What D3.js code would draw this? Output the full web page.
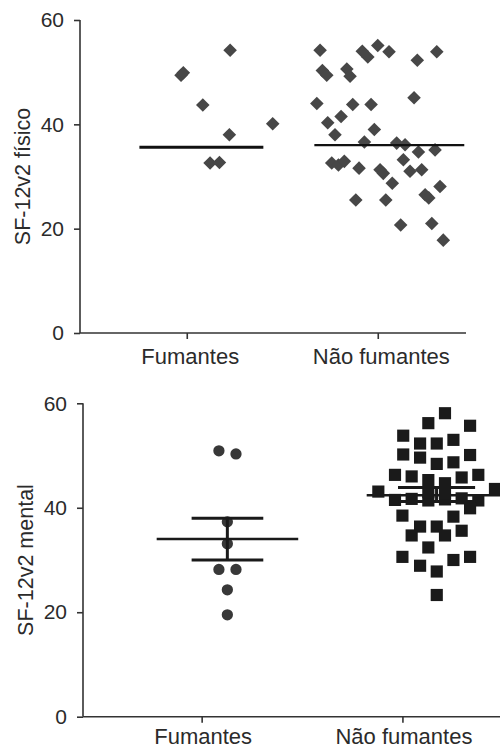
<!DOCTYPE html>
<html>
<head>
<meta charset="utf-8">
<script src="https://cdn.jsdelivr.net/npm/d3@7"></script>
<style>
  body { margin: 0; background: #fff; }
  svg { display: block; font-family: "Liberation Sans", Arial, sans-serif; }
  .axis path, .axis line { stroke: #333; stroke-width: 1.6; }
  .axis text { font-size: 21px; fill: #2b2b2b; }
  .axis.x text { font-size: 22px; }
  .ylabel { font-size: 21.5px; fill: #2b2b2b; }
</style>
</head>
<body>
<div id="chart"></div>
<script>
// Categorias y ejes
const groups = ['Fumantes', 'Não fumantes'];
const yTicks = [0, 20, 40, 60];

// SF-12v2 físico (diamantes): desplazamiento horizontal + valor
const fisFumJitter = [0.227, -0.030, -0.018, 0.084, 0.450, 0.223, 0.122, 0.171];
const fisFumValues = [54.2, 49.4, 49.9, 43.7, 40.1, 38.0, 32.6, 32.7];
const fisNaoJitter = [-0.302, -0.290, -0.267, -0.081, -0.052, 0.000, 0.059, 0.207, 0.309,
  -0.162, -0.145, -0.319, -0.131, -0.035, 0.190, -0.192, -0.262, -0.224, -0.018, -0.070,
  0.099, 0.143, 0.134, 0.213, 0.300, -0.241, -0.206, -0.175, -0.098, 0.012, 0.029, 0.169,
  0.230, 0.076, 0.326, 0.248, 0.267, -0.115, 0.042, 0.120, 0.283, 0.343];
const fisNaoValues = [54.2, 50.3, 49.4, 54.0, 52.9, 55.1, 53.9, 52.3, 53.9,
  50.6, 49.2, 44.0, 43.8, 43.8, 45.1, 41.5, 40.3, 38.0, 39.0, 36.6,
  36.4, 36.1, 33.2, 34.7, 35.1, 32.6, 32.2, 32.9, 31.6, 31.3, 30.6, 31.0,
  31.3, 28.7, 28.1, 26.5, 25.9, 25.5, 25.5, 20.7, 21.0, 17.8];
const fisMeans = [35.6, 36.0];
const fisMeanFrom = [-0.248, -0.332];
const fisMeanTo = [0.401, 0.453];

// SF-12v2 mental (círculos / cuadrados)
const menFumJitter = [0.086, 0.171, 0.128, 0.128, 0.086, 0.171, 0.128, 0.128];
const menFumValues = [50.9, 50.3, 37.3, 33.1, 28.2, 28.2, 24.3, 19.5];
const menNaoJitter = [0.212, 0.129, 0.337, 0.004, 0.088, 0.171, 0.254, 0.004, 0.088, 0.171,
  0.254, 0.337, -0.037, 0.046, 0.129, 0.212, 0.295, 0.378, -0.120, 0.461,
  -0.037, 0.046, 0.129, 0.212, 0.295, 0.378, 0.129, 0.212,
  0.337, 0.000, 0.254, 0.088, 0.171, 0.046, 0.212, 0.295, 0.129, 0.000, 0.337, 0.254,
  0.088, 0.171, 0.171];
const menNaoValues = [58.1, 56.2, 55.7, 53.8, 52.3, 52.3, 53.0, 50.2, 49.6, 48.4,
  48.7, 50.1, 46.3, 46.0, 45.3, 44.7, 45.8, 46.3, 43.1, 43.6,
  41.5, 41.7, 41.4, 41.6, 41.8, 41.4, 43.0, 42.8,
  39.9, 38.5, 38.3, 36.4, 36.4, 34.7, 34.7, 35.6, 32.4, 30.6, 30.6, 30.0,
  28.9, 27.8, 23.3];
const menMeans = [34.0, 42.4];
const menUpper = [38.0, 43.9];
const menLower = [30.0, 41.2];
const menCenter = [0.128, 0.170];
const menMeanFrom = [-0.224, -0.178];
const menMeanTo = [0.481, 0.530];
const menBarFrom = [-0.050, -0.022];
const menBarTo = [0.307, 0.362];

const width = 500, height = 750;
const svg = d3.select('#chart').append('svg')
  .attr('width', width)
  .attr('height', height);

function drawPanel(opt) {
  const g = svg.append('g');
  const x = d3.scaleLinear().domain(opt.xDomain).range([opt.left, opt.right]);
  const y = d3.scaleLinear().domain([0, 60]).range([opt.bottom, opt.top]);

  // Eje Y
  g.append('g')
    .attr('class', 'axis y')
    .attr('transform', `translate(${opt.left},0)`)
    .call(d3.axisLeft(y).tickValues(yTicks).tickSize(6).tickPadding(10).tickSizeOuter(0))
    .call(a => a.select('.domain').attr('d', `M0,${opt.bottom}V${opt.top}`));

  // Eje X
  g.append('g')
    .attr('class', 'axis x')
    .attr('transform', `translate(0,${opt.bottom})`)
    .call(d3.axisBottom(x).tickValues([0, 1]).tickFormat(i => groups[i])
      .tickSize(6).tickPadding(opt.labelPad).tickSizeOuter(0))
    .call(a => a.select('.domain').attr('d', `M${opt.left},0H${opt.right}`))
    .call(a => a.selectAll('text').attr('dx', opt.labelDx));

  // Título del eje Y
  g.append('text')
    .attr('class', 'ylabel')
    .attr('transform', `translate(${opt.left - 58},${(opt.top + opt.bottom) / 2}) rotate(-90)`)
    .attr('text-anchor', 'middle')
    .attr('dy', '0.35em')
    .text(opt.title);

  // Puntos
  opt.series.forEach((s, gi) => {
    const pts = s.values.map((v, i) => ({ x: gi + s.jitter[i], v }));
    g.append('g').selectAll('path')
      .data(pts)
      .enter().append('path')
      .attr('d', d3.symbol().type(s.shape === 'circle' ? d3.symbolCircle : d3.symbolSquare).size(s.size))
      .attr('transform', d => `translate(${x(d.x)},${y(d.v)})` + (s.shape === 'diamond' ? ' rotate(45)' : ''))
      .attr('fill', s.color);
  });

  return { g, x, y };
}

// Panel superior: físico
const fis = drawPanel({
  left: 80, right: 466, top: 20, bottom: 333,
  xDomain: [-0.559, 1.462], labelDx: 3, labelPad: 9,
  title: 'SF-12v2 físico',
  series: [
    { jitter: fisFumJitter, values: fisFumValues, shape: 'diamond', size: 92, color: '#474747' },
    { jitter: fisNaoJitter, values: fisNaoValues, shape: 'diamond', size: 92, color: '#474747' }
  ]
});
fis.g.append('g').selectAll('line')
  .data(fisMeans)
  .enter().append('line')
  .attr('x1', (d, i) => fis.x(i + fisMeanFrom[i]))
  .attr('x2', (d, i) => fis.x(i + fisMeanTo[i]))
  .attr('y1', d => fis.y(d))
  .attr('y2', d => fis.y(d))
  .attr('stroke', '#111')
  .attr('stroke-width', (d, i) => i === 0 ? 3 : 2.2);

// Panel inferior: mental
const men = drawPanel({
  left: 83, right: 500, top: 403.3, bottom: 716.7,
  xDomain: [-0.591, 1.486], labelDx: 1, labelPad: 6,
  title: 'SF-12v2 mental',
  series: [
    { jitter: menFumJitter, values: menFumValues, shape: 'circle', size: 100, color: '#383838' },
    { jitter: menNaoJitter, values: menNaoValues, shape: 'square', size: 148, color: '#1a1a1a' }
  ]
});
const stats = menMeans.map((m, i) => ({ i, m, up: menUpper[i], lo: menLower[i] }));
const sg = men.g.append('g').attr('stroke', '#1a1a1a');
sg.selectAll('.mean').data(stats).enter().append('line')
  .attr('x1', d => men.x(d.i + menMeanFrom[d.i]))
  .attr('x2', d => men.x(d.i + menMeanTo[d.i]))
  .attr('y1', d => men.y(d.m)).attr('y2', d => men.y(d.m))
  .attr('stroke-width', 2.5);
sg.selectAll('.up').data(stats).enter().append('line')
  .attr('x1', d => men.x(d.i + menBarFrom[d.i]))
  .attr('x2', d => men.x(d.i + menBarTo[d.i]))
  .attr('y1', d => men.y(d.up)).attr('y2', d => men.y(d.up))
  .attr('stroke-width', 3);
sg.selectAll('.lo').data(stats).enter().append('line')
  .attr('x1', d => men.x(d.i + menBarFrom[d.i]))
  .attr('x2', d => men.x(d.i + menBarTo[d.i]))
  .attr('y1', d => men.y(d.lo)).attr('y2', d => men.y(d.lo))
  .attr('stroke-width', 3);
sg.selectAll('.vert').data(stats).enter().append('line')
  .attr('x1', d => men.x(d.i + menCenter[d.i]))
  .attr('x2', d => men.x(d.i + menCenter[d.i]))
  .attr('y1', d => men.y(d.up)).attr('y2', d => men.y(d.lo))
  .attr('stroke-width', 3);
</script>
</body>
</html>
